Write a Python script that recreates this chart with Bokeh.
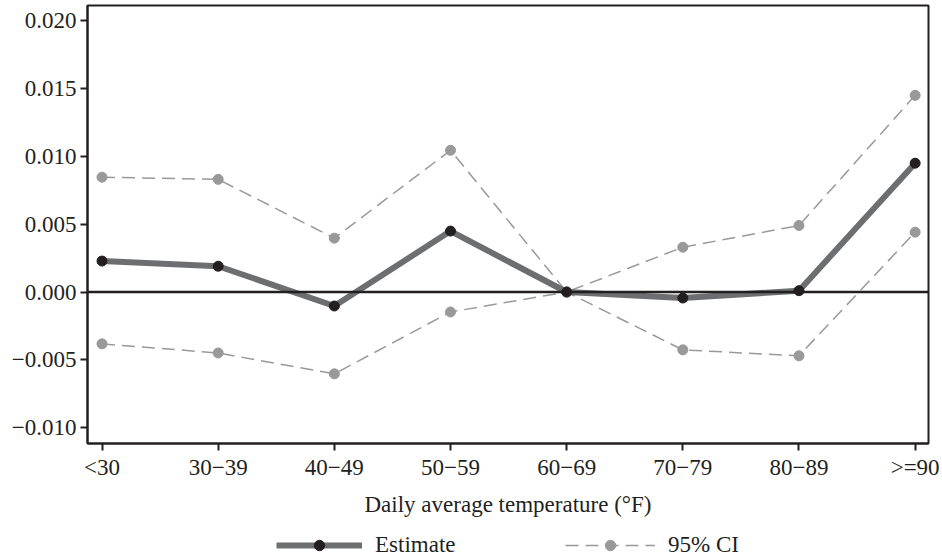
from bokeh.plotting import figure
from bokeh.layouts import column
from bokeh.models import (FixedTicker, CustomJSTickFormatter, Span, Legend, LegendItem,
                          Range1d, ColumnDataSource)
from bokeh.embed import file_html
from bokeh.resources import INLINE

categories = ["<30", "30\u221239", "40\u221249", "50\u221259", "60\u221269", "70\u221279", "80\u221289", ">=90"]
estimate = [0.00228, 0.0019, -0.00103, 0.00449, 0.0, -0.00044, 0.0001, 0.00949]
ci_upper = [0.00846, 0.0083, 0.00397, 0.01044, 0.0, 0.0033, 0.0049, 0.01449]
ci_lower = [-0.00382, -0.00449, -0.00603, -0.00147, 0.0, -0.00426, -0.0047, 0.00441]
y_ticks = [-0.010, -0.005, 0.000, 0.005, 0.010, 0.015, 0.020]

FONT = "Liberation Serif"
FS = "23px"
INK = "#231f20"
EST_LINE = "#6d6e70"
CI_COL = "#999999"

xs = list(range(len(categories)))
src = ColumnDataSource(dict(x=xs, est=estimate, up=ci_upper, lo=ci_lower))

p = figure(width=940, height=532, output_backend="svg", toolbar_location=None,
           x_range=Range1d(-0.125, len(categories) - 1 + 0.115),
           y_range=Range1d(-0.01116, 0.02111),
           min_border_left=87, min_border_right=12, min_border_top=5, min_border_bottom=89)
p.background_fill_color = "white"
p.border_fill_color = "white"
p.outline_line_color = INK
p.outline_line_width = 2
p.xgrid.visible = False
p.ygrid.visible = False

p.xaxis.ticker = FixedTicker(ticks=xs)
p.xaxis.major_label_overrides = {i: c for i, c in enumerate(categories)}
p.yaxis.ticker = FixedTicker(ticks=y_ticks)
p.yaxis.formatter = CustomJSTickFormatter(code="""
    var s = Math.abs(tick).toFixed(3);
    return (tick < -1e-9 ? "\u2212" : "") + s;
""")
for ax in (p.xaxis, p.yaxis):
    ax.axis_line_color = INK
    ax.axis_line_width = 2
    ax.major_tick_line_color = INK
    ax.major_tick_line_width = 2
    ax.major_tick_out = 7
    ax.major_tick_in = 0
    ax.minor_tick_line_color = None
    ax.major_label_text_font = FONT
    ax.major_label_text_font_size = FS
    ax.major_label_text_color = INK
p.xaxis.major_label_standoff = 4
p.yaxis.major_label_standoff = 4
p.xaxis.axis_label = "Daily average temperature (\u00b0F)"
p.xaxis.axis_label_text_font = FONT
p.xaxis.axis_label_text_font_size = FS
p.xaxis.axis_label_text_font_style = "normal"
p.xaxis.axis_label_text_color = INK
p.xaxis.axis_label_standoff = 9

p.add_layout(Span(location=0, dimension="width", line_color=INK, line_width=2.5))

ci_line = dict(line_color=CI_COL, line_width=1.5, line_dash="13 7")
ci_mark = dict(size=10, fill_color=CI_COL, line_color=CI_COL)
est_line = dict(line_color=EST_LINE, line_width=6)
est_mark = dict(size=10, fill_color=INK, line_color=INK)

p.line("x", "up", source=src, **ci_line)
p.line("x", "lo", source=src, **ci_line)
p.scatter("x", "up", source=src, **ci_mark)
p.scatter("x", "lo", source=src, **ci_mark)
p.line("x", "est", source=src, **est_line)
p.scatter("x", "est", source=src, **est_mark)

# legend strip below the chart: same series, drawn outside this strip's visible ranges,
# so only their legend samples show
lg = figure(width=940, height=26, output_backend="svg", toolbar_location=None,
            x_range=Range1d(100, 101), y_range=Range1d(100, 101),
            x_axis_location=None, y_axis_location=None,
            min_border_left=0, min_border_right=0, min_border_top=0, min_border_bottom=0)
lg.outline_line_color = None
lg.xgrid.visible = False
lg.ygrid.visible = False
le1 = lg.line("x", "est", source=src, **est_line)
lm1 = lg.scatter("x", "est", source=src, **est_mark)
le2 = lg.line("x", "up", source=src, **ci_line)
lm2 = lg.scatter("x", "up", source=src, **ci_mark)

common = dict(orientation="horizontal", glyph_height=26, label_standoff=13,
              label_text_font=FONT, label_text_font_size=FS, label_text_color=INK,
              border_line_color=None, background_fill_alpha=0, margin=0, padding=0)
lg.add_layout(Legend(items=[LegendItem(label="Estimate", renderers=[le1, lm1])],
                     location=(189, 0), glyph_width=86, **common))
lg.add_layout(Legend(items=[LegendItem(label="95% CI", renderers=[le2, lm2])],
                     location=(478, 0), glyph_width=90, **common))

layout = column(p, lg, spacing=0)
open("out.html", "w").write(file_html(layout, INLINE))
